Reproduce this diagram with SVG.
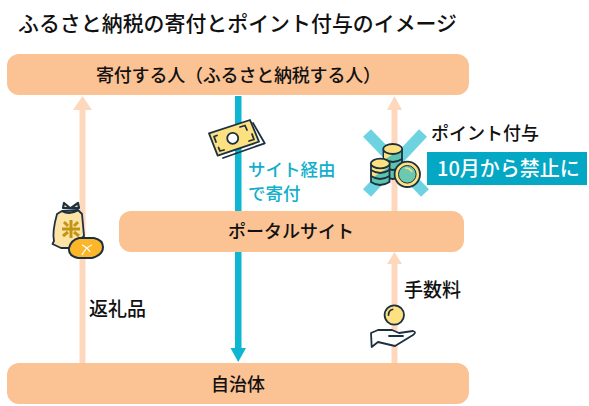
<svg xmlns="http://www.w3.org/2000/svg" width="589" height="406" viewBox="0 0 589 406">
<style>
text{font-family:"Noto Sans CJK JP","Noto Sans",sans-serif;fill:#111}
.n{fill:#fbc293}
.l{font-size:18px;font-weight:500}
.b{font-size:17.500px;font-weight:500;fill:#12aecb}
.c{text-anchor:middle}
.o{stroke:#1d3040;stroke-width:1.800;stroke-linejoin:round;stroke-linecap:round}
</style>
<rect width="589" height="406" fill="#fff"/>
<text x="18" y="31" font-size="20.900" font-weight="500" textLength="439" lengthAdjust="spacing">ふるさと納税の寄付とポイント付与のイメージ</text>
<g id="connectors">
<path d="M79.500 363V110H73L82.500 96L92 110H85.500V363Z" fill="#fdd8bd"/>
<path d="M391.500 211V110H387L394.500 96L402 110H397.500V211Z" fill="#fdd8bd"/>
<path d="M391.500 363V264H387L394.500 252L402 264H397.500V363Z" fill="#fdd8bd"/>
<path d="M235 96H241.500V348H246L238.200 362L230.500 348H235Z" fill="#0fb6d2"/>
</g>
<g id="node-donor"><rect class="n" x="7" y="54" width="462" height="41" rx="12"/><text class="l c" x="238.500" y="82" textLength="285" lengthAdjust="spacing">寄付する人（ふるさと納税する人）</text></g>
<g id="node-portal"><rect class="n" x="119" y="211" width="345" height="41" rx="12"/><text class="l c" x="291" y="238">ポータルサイト</text></g>
<g id="node-municipality"><rect class="n" x="7" y="363" width="462" height="41" rx="12"/><text class="l c" x="238" y="391">自治体</text></g>
<g id="label-site"><text class="b" x="248" y="176">サイト経由</text><text class="b" x="248" y="200">で寄付</text></g>
<g id="label-gift"><text x="89" y="316" font-size="19" font-weight="500">返礼品</text></g>
<g id="label-fee"><text x="404" y="297" font-size="19" font-weight="500">手数料</text></g>
<g id="label-point"><text class="l" x="431" y="140">ポイント付与</text></g>
<g id="badge"><rect x="427" y="152" width="160" height="33" fill="#04a8c4"/><text x="437" y="176" font-size="20" font-weight="500" style="fill:#fff">10月から禁止に</text></g>
<g id="icon-money">
<path class="o" d="M253 123L264.700 143.300L223 158" fill="none"/>
<path class="o" d="M209 133.300L250 120L259 141.700L217.700 155.700Z" fill="#fde07f"/>
<circle class="o" cx="232.700" cy="138.300" r="5.500" fill="#fff"/>
<path class="o" d="M217 135.500L214 136.500L216 142M240 127L245 125.500L247 130M224 150L220 151L218.500 147.500M252 134L254 139.500L249 141" fill="none"/>
</g>
<g id="icon-coins">
<g stroke="#6dd3e0" stroke-width="11"><path d="M367 133L425 193"/><path d="M423 133L367 193"/></g>
<path class="o" d="M383.500 150V176Q393 182 402 176V150" fill="#5cc3ad"/>
<path d="M384 160V153H395Z" fill="#fde07f"/>
<path class="o" d="M383.500 159Q393 165 402 159M383.500 167Q393 173 402 167" fill="none" stroke-width="1.200"/>
<ellipse class="o" cx="392.700" cy="149" rx="9.500" ry="5" fill="#fde07f"/>
<path class="o" d="M371 164V182Q380 188 389.500 182V164" fill="#5cc3ad"/>
<path d="M372 178V167H389Z" fill="#fde07f"/>
<path class="o" d="M371 170Q380 176 389.500 170M371 176Q380 182 389.500 176" fill="none" stroke-width="1.200"/>
<ellipse class="o" cx="380.300" cy="163.500" rx="9.500" ry="4.800" fill="#fde07f"/>
<circle class="o" cx="407.300" cy="174.300" r="12.700" fill="#fde07f"/>
<circle cx="407.300" cy="174.300" r="8.800" fill="#6cc8af" stroke="#1d3040" stroke-width="1"/>
<path d="M405 168Q410 168 412 172" stroke="#fde07f" stroke-width="1.500" fill="none"/>
</g>
<g id="icon-rice">
<path class="o" d="M62 211L57 214Q52 232 54 241L52.500 244L61 248H72L84 236L82 214L78 210Z" fill="#fde4a6"/>
<path d="M62 211Q70 215 78 210" stroke="#1d3040" stroke-width="2.500" fill="none"/>
<path d="M70 208L64 203L63 208ZM71 208L78 203L79 208Z" fill="#fde4a6" stroke="#1d3040" stroke-width="2.200" stroke-linejoin="round"/>
<path d="M71 220V238M62 229H80M64 222L68 226M78 222L74 226M63 236L68 232M79 236L74 232" stroke="#c29415" stroke-width="3" fill="none"/>
<path d="M79 238H94Q103 240 103 247Q103 255 92 258H78Q68 256 69 248Q71 240 79 238Z" fill="#fcb62a" stroke="#1d3040" stroke-width="2"/>
<path d="M82 255Q86 247 92 245M82 245Q88 248 90 252" stroke="#fff" stroke-width="1.300" fill="none"/>
</g>
<g id="icon-hand">
<circle class="o" cx="394.300" cy="315" r="9.700" fill="#fde07f" stroke-width="2"/>
<path class="o" d="M388.500 315Q388.500 310.500 392.500 309.500" fill="none"/>
<path class="o" d="M371 333L378 330H392L399 333L413 331Q417 332 413 335L395 346L378 342L371.700 347ZM389 336H403" fill="#fff" stroke-width="2"/>
</g>
</svg>
